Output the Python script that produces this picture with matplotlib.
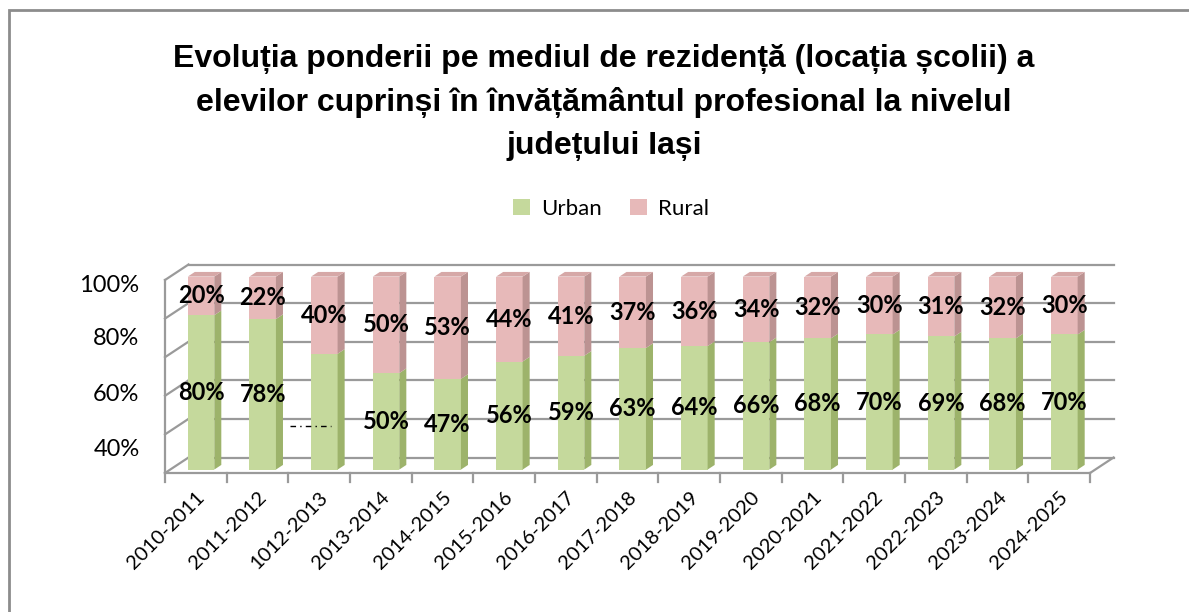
import matplotlib
matplotlib.use('Agg')
import matplotlib.pyplot as plt
from matplotlib.patches import Polygon, Rectangle, Patch
import numpy as np

# ---------------- data ----------------
years = ['2010-2011', '2011-2012', '1012-2013', '2013-2014', '2014-2015',
         '2015-2016', '2016-2017', '2017-2018', '2018-2019', '2019-2020',
         '2020-2021', '2021-2022', '2022-2023', '2023-2024', '2024-2025']
urban = [80, 78, 60, 50, 47, 56, 59, 63, 64, 66, 68, 70, 69, 68, 70]
rural = [20, 22, 40, 50, 53, 44, 41, 37, 36, 34, 32, 30, 31, 32, 30]
series_names = ['Urban', 'Rural']
ytick_labels = ['100%', '80%', '60%', '40%']
title = ('Evoluția ponderii pe mediul de rezidență (locația școlii) a\n'
         'elevilor cuprinși în învățământul profesional la nivelul\n'
         'județului Iași')

# ---------------- style / layout ----------------
W, H = 1189, 612
GREEN, GREEN_SIDE = '#C5D99C', '#9DB36B'
PINK, PINK_SIDE, PINK_TOP = '#E7B9B9', '#BC9392', '#D6A8A7'
GRID = '#9A9A9A'
FONT = ['Lato', 'DejaVu Sans']

fig = plt.figure(figsize=(W / 100, H / 100), dpi=100)

X0, PXC, Y0, PXY = 165, 61.67, 473, 193   # pixel geometry of front plane
xlim = (-0.3, 15.6)
ylim = (-0.06, 1.12)
left = X0 + xlim[0] * PXC
right = X0 + xlim[1] * PXC
bot = Y0 - ylim[0] * PXY
top = Y0 - ylim[1] * PXY
ax = fig.add_axes([left / W, 1 - bot / H, (right - left) / W, (bot - top) / H])
ax.set_xlim(xlim)
ax.set_ylim(ylim)
for s in ax.spines.values():
    s.set_visible(False)

n = len(years)
DX, DY = 23.5 / PXC, 15.5 / PXY   # depth offsets in data units

# walls / grid
for v in np.linspace(0, 1, 6):
    ax.plot([DX, n + DX], [v + DY, v + DY], color=GRID, lw=1.6, zorder=1)
    ax.plot([0, DX], [v, v + DY], color=GRID, lw=1.6, zorder=1)
ax.plot([0, n], [0, 0], color=GRID, lw=1.6, zorder=1)
ax.plot([n, n + DX], [0, DY], color=GRID, lw=1.6, zorder=1)
ax.plot([0, 0], [0, 1], color=GRID, lw=1.6, zorder=1)
for i in range(n + 1):
    ax.plot([i, i], [0, -9 / PXY], color=GRID, lw=1.6, zorder=1, clip_on=False)

# bars
bw = 0.43
f0, f1 = 0.22, 0.52
ddx, ddy = (f1 - f0) * DX, (f1 - f0) * DY
for i in range(n):
    xc = i + 0.5
    xl = xc - bw / 2 + f0 * DX
    yo = f0 * DY
    u = urban[i] / 100.0
    segs = [(0, u, GREEN, GREEN_SIDE), (u, 1.0, PINK, PINK_SIDE)]
    for lo, hi, fc, sc in segs:
        ax.add_patch(Rectangle((xl, yo + lo), bw, hi - lo, fc=fc, ec='none', zorder=3))
        ax.add_patch(Polygon([(xl + bw, yo + lo), (xl + bw + ddx, yo + lo + ddy),
                              (xl + bw + ddx, yo + hi + ddy), (xl + bw, yo + hi)],
                             closed=True, fc=sc, ec='none', zorder=3))
    ax.add_patch(Polygon([(xl, yo + 1), (xl + bw, yo + 1), (xl + bw + ddx, yo + 1 + ddy),
                          (xl + ddx, yo + 1 + ddy)], closed=True, fc=PINK_TOP, ec='none', zorder=3))
    # labels
    lx = xc + f0 * DX
    if i != 2:
        ax.text(lx, yo + u / 2, f'{urban[i]}%', ha='center', va='center', fontsize=17,
                fontweight='bold', family=FONT, zorder=5)
    else:
        ax.plot([lx - 0.55, lx + 0.1], [yo + u * 0.38, yo + u * 0.38], color='black', lw=1,
                dashes=(4, 3, 1, 3), zorder=5)
    ax.text(lx, yo + u + (1 - u) / 2, f'{rural[i]}%', ha='center', va='center', fontsize=17,
            fontweight='bold', family=FONT, zorder=5)

# axis tick labels
ax.set_xticks(np.arange(n) + 0.5)
ax.set_xticklabels(years, rotation=45, ha='right', rotation_mode='anchor',
                   fontsize=14.5, family=FONT)
ax.tick_params(axis='x', length=0, pad=3)
ax.set_yticks([0.984, 0.705, 0.415, 0.13])
ax.set_yticklabels(ytick_labels, fontsize=17, family=FONT)
ax.tick_params(axis='y', length=0, pad=5)

# title
fig.text(0.508, 1 - 44 / H, title, ha='center', va='top', fontsize=23, fontweight='bold',
         family=['Liberation Sans', 'DejaVu Sans'], linespacing=1.56)

# legend
handles = [Patch(fc=GREEN, ec='none'), Patch(fc=PINK, ec='none')]
fig.legend(handles, series_names, ncol=2, loc='center', bbox_to_anchor=(611 / W, 1 - 209 / H),
           frameon=False, prop={'family': FONT, 'size': 16}, handlelength=0.75, handleheight=0.75,
           columnspacing=1.3, handletextpad=0.5)

# chart border (right/bottom edges lie outside the picture)
fig.patches.append(Rectangle((9 / W, -0.1), 1.1, 1.1 - 10 / H, transform=fig.transFigure,
                             fill=False, ec='#8C8C8C', lw=2))

fig.savefig('out.png', dpi=100)
